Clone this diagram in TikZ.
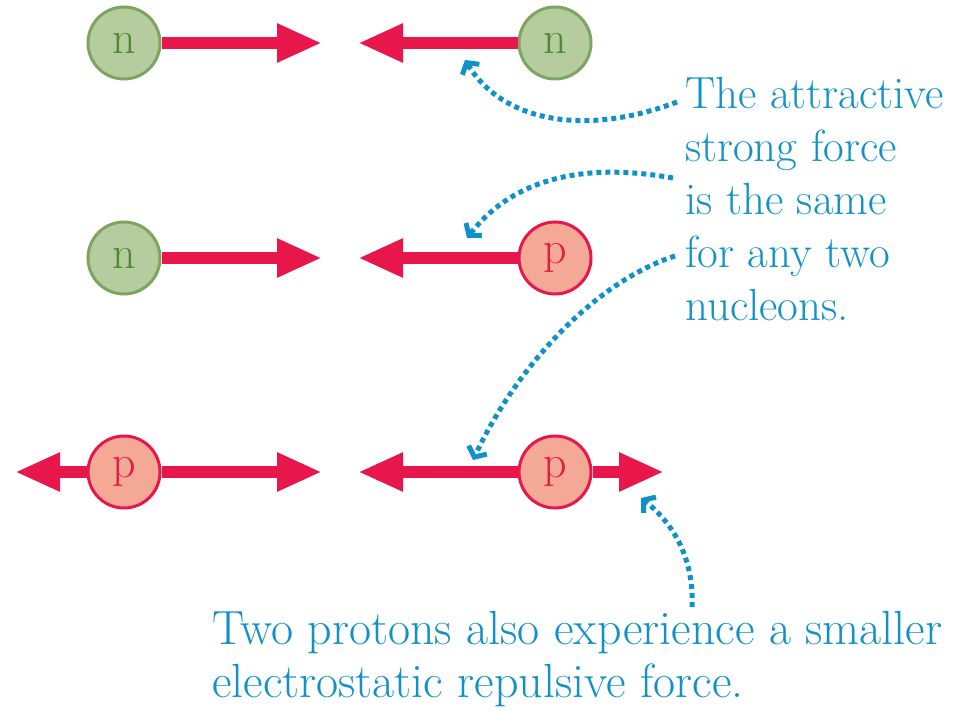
\documentclass[tikz,border=0pt]{standalone}
\usetikzlibrary{arrows.meta}
\definecolor{forcered}{RGB}{232,23,75}
\definecolor{notecol}{RGB}{16,146,200}
\definecolor{nfill}{RGB}{181,204,158}
\definecolor{nborder}{RGB}{125,165,95}
\definecolor{ntext}{RGB}{80,138,52}
\definecolor{pfill}{RGB}{244,168,150}
\definecolor{ptext}{RGB}{224,32,64}

\begin{document}
\begin{tikzpicture}[x=1pt, y=-1pt,
    neutron/.style={circle, draw=nborder, fill=nfill, text=ntext, line width=3pt,
      minimum size=72pt, inner sep=0pt, font=\fontsize{46}{46}\selectfont},
    proton/.style={circle, draw=forcered, fill=pfill, text=ptext, line width=3pt,
      minimum size=72pt, inner sep=0pt, font=\fontsize{46}{46}\selectfont},
    force/.style={draw=forcered, line width=12pt, -{Triangle[length=45pt,width=36pt]}},
    note/.style={draw=notecol, line width=5pt, dash pattern=on 5pt off 4pt,
      -{Straight Barb[length=8pt,width=20pt]}},
    notetext/.style={text=notecol, align=left, anchor=north west, inner sep=0pt,
      font=\fontsize{45}{53}\selectfont}]
    \useasboundingbox (0,0) rectangle (955,711);
    % Row 1: n and n
    \node[neutron] (n1) at (124,43) {n};
    \node[neutron] (n2) at (555,43) {n};
    \coordinate (t1) at (322,43);
    \coordinate (t2) at (358,43);
    \draw[force] (n1.east) -- (t1);
    \draw[force] (n2.west) -- (t2);
    % Row 2: n and p
    \node[neutron] (n3) at (124,258) {n};
    \node[proton] (p1) at (555,258) {p};
    \coordinate (t3) at (322,258);
    \coordinate (t4) at (358,258);
    \draw[force] (n3.east) -- (t3);
    \draw[force] (p1.west) -- (t4);
    % Row 3: p and p
    \node[proton] (p2) at (124,472) {p};
    \node[proton] (p3) at (555,472) {p};
    \coordinate (t5) at (15,472);
    \coordinate (t6) at (322,472);
    \coordinate (t7) at (358,472);
    \coordinate (t8) at (664,472);
    \draw[force] (p2.west) -- (t5);
    \draw[force] (p2.east) -- (t6);
    \draw[force] (p3.west) -- (t7);
    \draw[force] (p3.east) -- (t8);
    % Notes
    \node[notetext] (strong) at (685,77) {The attractive\\strong force\\is the same\\for any two\\nucleons.};
    \node[notetext, font=\fontsize{48}{53}\selectfont] (electro) at (212,611) {Two protons also experience a smaller\\electrostatic repulsive force.};
    \coordinate (s1) at (677,102);
    \coordinate (s2) at (673,178);
    \coordinate (s3) at (675,256);
    \coordinate (s4) at (692,607);
    \coordinate (h1) at (465,60);
    \coordinate (h2) at (467,238);
    \coordinate (h3) at (473,460);
    \coordinate (h4) at (641,498);
    \draw[note] (s1) .. controls (590,135) and (505,125) .. (h1);
    \draw[note] (s2) .. controls (600,165) and (520,170) .. (h2);
    \draw[note] (s3) .. controls (600,280) and (520,360) .. (h3);
    \draw[note] (s4) .. controls (694,560) and (675,525) .. (h4);
\end{tikzpicture}
\end{document}
